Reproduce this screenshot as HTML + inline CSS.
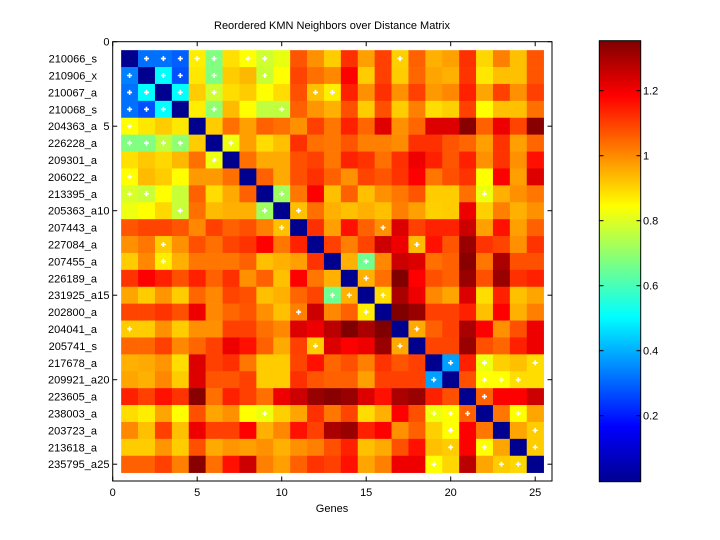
<!DOCTYPE html>
<html><head><meta charset="utf-8"><style>
html,body{margin:0;padding:0;background:#fff;width:720px;height:540px;overflow:hidden}
svg text{font-family:"Liberation Sans",sans-serif;font-size:11px;fill:#000}
</style></head><body>
<svg id="s" width="720" height="540" viewBox="0 0 720 540" xmlns="http://www.w3.org/2000/svg">
<defs>
<linearGradient id="jet" x1="0" y1="1" x2="0" y2="0">
<stop offset="0" stop-color="#00008f"/>
<stop offset="0.125" stop-color="#0000ff"/>
<stop offset="0.375" stop-color="#00ffff"/>
<stop offset="0.625" stop-color="#ffff00"/>
<stop offset="0.875" stop-color="#ff0000"/>
<stop offset="1" stop-color="#800000"/>
</linearGradient>
</defs>
<rect x="0" y="0" width="720" height="540" fill="#fff"/>
<g id="cells"></g>
<rect x="112.7" y="41.7" width="439.3" height="439.3" fill="none" stroke="#000" stroke-width="1"/>
<g id="ticks" stroke="#000" stroke-width="1"></g>
<g id="labels"></g>
<text x="332" y="29" text-anchor="middle">Reordered KMN Neighbors over Distance Matrix</text>
<text x="332" y="512" text-anchor="middle">Genes</text>
<rect x="599.3" y="40.7" width="41.4" height="441" fill="url(#jet)" stroke="#000" stroke-width="1"/>
<g id="cb" stroke="#000" stroke-width="1"></g>
<g id="cbl"></g>
</svg>
<script>
var D=[
"00008f 0070ff* 0070ff* 0060ff* ffee00* 80ff80* ffe000 ffff00* d0ff30* e8ff10 ff5500 ff9000 ffcc00 ff3000 ffa000 ff4000 ffd000* ff6000 ffb000 ffa000 ff3000 ffd700 ff8000 ffc000 ff5500",
"0080ff* 00008f 00ffff* 0050ff* ffe800 80ff80* ffcc00 ffb800 c8ff30* ffff00 ff4400 ff7000 ff8800 ff0000 ffcc00 ff4000 ffcc00 ff6600 ffa500 ffb000 ff3300 ffe800 ffc000 ffc000 ff5500",
"0070ff* 00ffff* 00008f 00ffff* ffcc00 d0ff30* ffdd00 ffcc00 ffff00 ffdd00 ff5000 ffc000* ffee00* ff2000 ff9000 ff3000 ff9000 ff4000 ff9900 ff8800 ff2000 ffa500 ff4000 ff9000 ff4000",
"0070ff* 0050ff* 00ffff* 00008f ffee00 90ff70* ffbb00 ffff00 c0ff40 c0ff40* ff6000 ff9500 ffb000 ff5000 ffcc00 ff5000 ffcc00 ff8000 ffdd00 ffd000 ff4000 ffff00 ffc000 ffc000 ff7000",
"ffff00* ffe800 ffcc00 ffe800 00008f ffcc00 ff7000 ffa000 ff6000 ff7000 ff9000 ff4000 ff7700 ff2000 ff6600 e00000 ff9000 ff6600 dd0000 dd0000 880000 ff6000 ee0000 ff4400 880000",
"80ff80* 80ff80* c0ff40* 90ff70* ffcc00 00008f eeff10* ffa000 ffdd00 ffc000 ff3000 ff7000 ff7700 ff5500 ff8000 ff8000 ff8c00 ff3000 ff3000 ff5500 ff6600 ffa000 ff3300 ffa000 ff6600",
"ffe000 ffc800 ffd800 ffb800 ff7000 eeff10* 00008f ff7000 ffaa00 ffaa00 ff5000 ff4000 ff7700 ff2200 ff3300 ff7000 ff3000 ee0000 ff2000 ff5500 ff2000 ff9000 ff3300 ff9000 ff1000",
"ffff00* ffbb00 ffcc00 ffff00 ff9900 ff9900 ff7000 00008f ff6000 ffaa00 ff5000 ff3000 ff6000 ff9000 ff4400 ff5500 ff3300 ff0000 ff7700 ff5000 ff3300 ffff00 ff0000 ffa000 dd0000",
"d8ff28* c8ff38* ffff00 c8ff38 ff6000 ffdd00 ffaa00 ff6000 00008f a0ff60* ff7700 ff0000 ffc000 ff6000 ffc000 ff9000 ff7700 ff5500 ffcc00 ffcc00 ff7000 eeff10* ffb000 ff9000 ff7700",
"eeff10 ffff00 ffd800 c8ff38* ff7000 ffbb00 ffb000 ffb000 a0ff60* 00008f ffc000* ff7000 ffb000 ffc000 ffb000 ffc000 ff8000 ffa000 ffd000 ffcc00 ee0000 ffd000 ff8000 ffb000 ff9000",
"ff5500 ff4400 ff4400 ff5500 ff8800 ff4000 ff6000 ff5000 ff8000 ffc000* 00008f ff3000 ffa000 ff1000 ff6000 ff9000* dd0000 ff4000 ff2200 ff2200 cc0000 ffa000 ff1000 ffa000 ff6000",
"ff9000 ff7700 ffcc00* ff9000 ff5000 ff7000 ff4400 ff3300 ff0000 ff7700 ff2200 00008f ff4000 ff8000 ff4400 cc0000 ee0000 ffbb00* ff1000 ff5500 990000 ff3300 ff4400 ff9000 ff3300",
"ffcc00 ff8800 ffee00* ffb000 ff7700 ff7700 ff7700 ff6000 ffc000 ffb000 ffa000 ff3300 00008f ffb000 70ff90* ff8800 cc0000 dd0000 ff7000 ff6000 880000 ff7700 aa0000 ff5000 ff5000",
"ff3300 ff0000 ff2000 ff5000 ff2000 ff6000 ff3000 ff9000 ff6000 ffc000 ff0000 ff7700 ffb000 00008f ffb000* ff7000 800000 ff0000 ff5000 ff6000 990000 ff5000 990000 ff3000 ff2000",
"ffa500 ffcc00 ff9500 ffcc00 ff6600 ff8800 ff4400 ff5000 ffc000 ffb000 ff6600 ff4400 70ff90* ffb000* 00008f ffdd00* aa0000 ee0000 ff8800 ffa500 dd0000 ffdd00 ff2000 ffc000 ffa500",
"ff4400 ff4400 ff3300 ff5000 ee0000 ff8800 ff6600 ff5500 ff9000 ffc000 ff8000* cc0000 ff8800 ff6000 ffee00* 00008f 800000 990000 ff4000 ff4000 ff2000 ffc000 ff0000 ffb000 ff8000",
"ffcc00* ffcc00 ff9000 ffcc00 ff9000 ff9000 ff4000 ff4000 ff7000 ff8800 dd0000 ee0000 bb0000 800000 aa0000 800000 00008f ffaa00* ff6000 ff4000 aa0000 ff0000 ff9000 ff5000 ee0000",
"ff6600 ff6600 ff4000 ff8800 ff6600 ff4000 ee0000 ff1000 ff6000 ffaa00 ff4000 ffcc00* dd0000 ff0000 ee0000 990000 ffaa00* 00008f ff4400 ff4400 990000 ff5000 ff6600 ff2000 ee0000",
"ffb000 ffaa00 ff9500 ffdd00 dd0000 ff4000 ff3000 ff7700 ffcc00 ffcc00 ff4400 ff1000 ff6600 ff5000 ff8000 ff3300 ff5500 ff4000 00008f 00a0ff* ff2000 eeff10* ffd000 ffc000 ffdd00*",
"ffa500 ffb000 ff8800 ffcc00 dd0000 ff5500 ff5500 ff4000 ffcc00 ffcc00 ff3000 ff5500 ff6000 ff6000 ffa000 ff4000 ff4000 ff4000 00a0ff* 00008f ff5000 ffff00* ffff00* ffdd00* ffdd00",
"ff2000 ff4000 ff1000 ff3300 880000 ff7000 ff2000 ff4000 ff7000 ee0000 cc0000 990000 880000 990000 dd0000 ff1000 aa0000 990000 ff2000 ff5000 00008f ff6000* ff0000 ff0000 cc0000",
"ffdd00 ffee00 ffa500 ffff00 ff5000 ffa500 ff9000 ffff00 eeff10* ffd000 ffa500 ff3000 ff7700 ff4400 ffdd00 ffb000 ff0000 ff5000 eeff10* ffff00* ff6000* 00008f ff7700 ffff00* ffa500",
"ff8800 ffc000 ff4000 ffc000 ee0000 ff4000 ff4000 ff0000 ffb000 ff8800 ff1000 ff4000 aa0000 990000 ff2000 ff0000 ff9000 ff6000 ffd000 ffff00* ff0000 ff7700 00008f ffa500 ffcc00*",
"ffcc00 ffcc00 ff9500 ffcc00 ff5000 ffaa00 ff9500 ffa000 ff9000 ffb000 ff9000 ff8000 ff5000 ff2000 ffc000 ffaa00 ff5000 ff1000 ffc000 ffcc00* ff0000 ffff00* ffa500 00008f ffcc00*",
"ff6000 ff6000 ff4000 ff8000 880000 ff7000 ff1000 cc0000 ff8000 ffa000 ff6000 ff3300 ff4000 ff1000 ffa500 ff8000 ee0000 ee0000 ffff00* ffd700 bb0000 ffa500 ffcc00* ffd700* 00008f"
];
var NS="http://www.w3.org/2000/svg";
function el(t,a,p){var e=document.createElementNS(NS,t);for(var k in a)e.setAttribute(k,a[k]);p.appendChild(e);return e;}
var cells=document.getElementById('cells');
var X0=112.7,Y0=41.7,U=16.9;
var dots=[];
for(var r=0;r<25;r++){var row=D[r].split(' ');for(var c=0;c<25;c++){var v=row[c];var d=v.indexOf('*')>=0;v=v.replace('*','');
var x=X0+(c+0.5)*U,y=Y0+(r+0.5)*U;
el('rect',{x:x.toFixed(2),y:y.toFixed(2),width:(U+0.3).toFixed(2),height:(U+0.3).toFixed(2),fill:'#'+v},cells);
if(d)dots.push([x+U/2,y+U/2]);}}
dots.forEach(function(p){el('path',{d:'M'+(p[0]-2.5)+' '+(p[1]-0.8)+'h1.7v-1.7h1.6v1.7h1.7v1.6h-1.7v1.7h-1.6v-1.7h-1.7z',fill:'#fff'},cells);});
var tk=document.getElementById('ticks'),lb=document.getElementById('labels');
for(var i=0;i<=25;i+=5){var x=X0+i*U,y=Y0+i*U;
el('line',{x1:x,y1:481,x2:x,y2:476.5},tk);el('line',{x1:x,y1:41.7,x2:x,y2:46.2},tk);
el('line',{x1:112.7,y1:y,x2:117.2,y2:y},tk);el('line',{x1:552,y1:y,x2:547.5,y2:y},tk);
var t=el('text',{x:x,y:496,'text-anchor':'middle'},lb);t.textContent=i;
t=el('text',{x:109.5,y:y+4,'text-anchor':'end'},lb);t.textContent=i;}
var names=["210066_s","210906_x","210067_a","210068_s","204363_a","226228_a","209301_a","206022_a","213395_a","205363_a","207443_a","227084_a","207455_a","226189_a","231925_a","202800_a","204041_a","205741_s","217678_a","209921_a","223605_a","238003_a","203723_a","213618_a","235795_a"];
names.forEach(function(n,k){var t=el('text',{x:97,y:Y0+(k+1)*U+4,'text-anchor':'end'},lb);t.textContent=n;});
var cb=document.getElementById('cb'),cbl=document.getElementById('cbl');
[[1.2,90.7],[1,155.7],[0.8,220.7],[0.6,285.7],[0.4,350.7],[0.2,415.7]].forEach(function(a){
el('line',{x1:599.3,y1:a[1],x2:603.5,y2:a[1]},cb);el('line',{x1:640.7,y1:a[1],x2:636.5,y2:a[1]},cb);
var t=el('text',{x:643,y:a[1]+4},cbl);t.textContent=a[0];});
</script>
</body></html>
